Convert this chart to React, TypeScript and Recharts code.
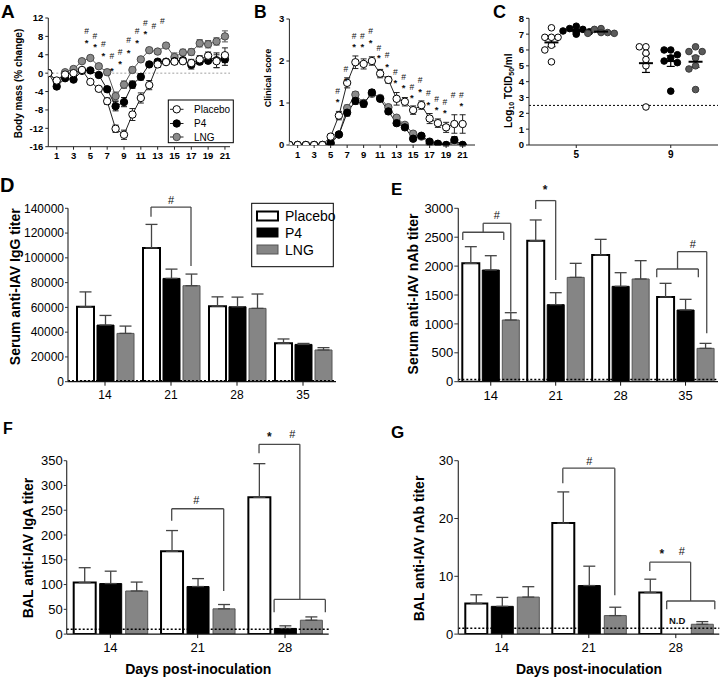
import React from 'react';
import {
  ComposedChart, Line, Bar, Scatter, XAxis, YAxis, ErrorBar, ReferenceLine, ReferenceDot,
} from 'recharts';

const FONT = '"Liberation Sans", Arial, Helvetica, sans-serif';

const seriesNames = ['Placebo', 'P4', 'LNG'];

// ---------- Panel A: body mass (% change) ----------
const aDays = [0, 1, 2, 3, 4, 5, 6, 7, 8, 9, 10, 11, 12, 13, 14, 15, 16, 17, 18, 19, 20, 21];
const aTicks = [1, 3, 5, 7, 9, 11, 13, 15, 17, 19, 21];
const aYTicks = [-16, -12, -8, -4, 0, 4, 8, 12];
const aPlacebo = [0, -1.6, -0.3, 0, 0.7, -1.9, -3.4, -6.1, -12.1, -13.4, -9.0, -5.4, -2.6, 1.9, 2.4, 2.5, 2.6, 2.2, 3.0, 3.8, 2.6, 3.9];
const aPlaceboErr = [0, 0.5, 0.4, 0.4, 0.5, 0.5, 0.5, 0.7, 0.8, 1.0, 1.3, 1.1, 1.0, 0.6, 0.5, 0.5, 0.6, 0.8, 0.8, 0.8, 1.4, 1.6];
const aP4 = [0, -2.9, -1.1, -1.4, 0.5, 0.6, -0.4, -3.5, -7.2, -6.3, -2.5, -0.8, 1.9, 2.5, 2.5, 2.6, 2.8, 1.8, 2.5, 2.7, 2.8, 3.0];
const aP4Err = [0, 0.5, 0.4, 0.4, 0.4, 0.4, 0.5, 0.6, 1.0, 1.0, 0.8, 0.7, 0.5, 0.5, 0.5, 0.6, 0.6, 0.9, 0.6, 0.6, 1.6, 1.3];
const aLng = [0, -1.8, 0.2, 0.9, 2.6, 3.3, 1.5, 0.2, -5.0, -2.5, 0.7, 3.0, 5.0, 4.7, 6.0, 3.5, 4.5, 4.6, 6.5, 6.3, 6.9, 8.0];
const aLngErr = [0, 0.4, 0.4, 0.4, 0.5, 0.5, 0.5, 0.6, 0.9, 0.8, 0.6, 0.5, 0.5, 0.5, 0.5, 0.9, 0.7, 0.7, 0.8, 0.8, 0.8, 1.2];
const aHashDays = [5, 6, 7, 8, 9, 10, 11, 12, 13, 14];
const aHashY = [9.2, 8.1, 6.3, 3.7, 4.6, 7.2, 9.2, 10.9, 10.3, 11.4];
const aStarDays = [5, 6, 7, 8, 9, 10, 11, 12];
const aStarY = [7.2, 6.3, 4.4, 1.1, 2.6, 5.0, 7.2, 9.2];

// ---------- Panel B: clinical score ----------
const bDays = aDays;
const bTicks = aTicks;
const bYTicks = [0, 1, 2, 3];
const bPlacebo = [0, 0, 0, 0, 0, 0.2, 0.7, 1.48, 1.97, 1.93, 2.0, 1.7, 1.55, 1.1, 1.03, 0.83, 0.95, 0.63, 0.52, 0.42, 0.5, 0.5];
const bPlaceboErr = [0, 0, 0, 0, 0, 0.05, 0.1, 0.12, 0.15, 0.12, 0.1, 0.1, 0.08, 0.15, 0.1, 0.1, 0.1, 0.12, 0.1, 0.12, 0.22, 0.22];
const bP4 = [0, 0, 0, 0, 0, 0.05, 0.25, 0.77, 1.05, 0.98, 1.25, 1.1, 0.8, 0.52, 0.42, 0.15, 0.22, 0.08, 0.03, 0, 0.12, 0];
const bP4Err = [0, 0, 0, 0, 0, 0.03, 0.04, 0.08, 0.08, 0.08, 0.07, 0.06, 0.06, 0.06, 0.06, 0.05, 0.05, 0.04, 0.03, 0.02, 0.08, 0.02];
const bLng = [0, 0, 0, 0, 0, 0.02, 0.25, 0.88, 1.2, 1.0, 1.22, 1.12, 0.9, 0.65, 0.48, 0.27, 0.2, 0.03, 0.02, 0, 0.05, 0];
const bLngErr = [0, 0, 0, 0, 0, 0.02, 0.04, 0.07, 0.07, 0.07, 0.07, 0.06, 0.05, 0.05, 0.05, 0.05, 0.04, 0.03, 0.02, 0.02, 0.04, 0.02];
const bHashDays = [6, 7, 8, 9, 10, 11, 12, 13, 14, 15, 16, 17, 18, 19, 20, 21];
const bHashY = [1.29, 1.82, 2.6, 2.6, 2.72, 2.3, 2.14, 1.75, 1.63, 1.39, 1.55, 1.23, 1.09, 1.03, 1.19, 1.19];
const bStarDays = [6, 7, 8, 9, 10, 11, 12, 13, 14, 15, 16, 17, 18, 19, 21];
const bStarY = [1.09, 1.6, 2.4, 2.4, 2.5, 2.14, 1.94, 1.55, 1.43, 1.19, 1.33, 1.03, 0.9, 0.83, 0.99];

// ---------- Panel C: viral titers ----------
const cDays = ['5', '9'];
const cYTicks = [0, 1, 2, 3, 4, 5, 6, 7, 8];
const c5Placebo = [7.4, 6.8, 6.8, 6.8, 6.3, 6.0, 5.25];
const c5P4 = [7.5, 7.35, 7.3, 7.2, 7.15, 7.1, 7.0];
const c5Lng = [7.35, 7.3, 7.1, 7.05, 7.05, 7.1];
const c9Placebo = [6.2, 6.2, 5.8, 5.4, 5.0, 2.4];
const c9P4 = [6.0, 6.0, 5.7, 5.5, 5.3, 5.2, 3.4];
const c9Lng = [6.2, 5.9, 5.9, 5.5, 5.0, 4.8, 3.5];
const cLimit = 2.5;

// ---------- Panel D: serum IgG ----------
const dCats = ['14', '21', '28', '35'];
const dYTicks = [0, 20000, 40000, 60000, 80000, 100000, 120000, 140000];
const dPlacebo = [60500, 108000, 61000, 31000];
const dPlaceboErr = [12000, 19000, 7500, 3500];
const dP4 = [45700, 83400, 60500, 30100];
const dP4Err = [7800, 7500, 7800, 800];
const dLng = [39000, 77500, 59200, 25600];
const dLngErr = [5900, 9400, 11600, 1900];

// ---------- Panel E: serum nAb ----------
const eCats = ['14', '21', '28', '35'];
const eYTicks = [0, 500, 1000, 1500, 2000, 2500, 3000];
const ePlacebo = [2048, 2440, 2192, 1465];
const ePlaceboErr = [288, 358, 271, 237];
const eP4 = [1932, 1333, 1650, 1240];
const eP4Err = [248, 207, 236, 185];
const eLng = [1067, 1805, 1777, 577];
const eLngErr = [127, 243, 317, 86];

// ---------- Panel F: BAL IgA ----------
const fCats = ['14', '21', '28'];
const fYTicks = [0, 50, 100, 150, 200, 250, 300, 350];
const fPlacebo = [104, 167, 276];
const fPlaceboErr = [30, 42, 68];
const fP4 = [102, 96, 11.4];
const fP4Err = [25, 16, 5.3];
const fLng = [87, 51, 28];
const fLngErr = [18, 8.7, 6.7];

// ---------- Panel G: BAL nAb ----------
const gCats = ['14', '21', '28'];
const gYTicks = [0, 10, 20, 30];
const gPlacebo = [5.3, 19.2, 7.2];
const gPlaceboErr = [1.5, 5.4, 2.3];
const gP4 = [4.8, 8.4, null];
const gP4Err = [1.55, 3.35, null];
const gLng = [6.4, 3.2, 1.7];
const gLngErr = [1.8, 1.45, 0.46];

// Significance brackets (cat index, bar-slot positions 0..2, y values)
type Bracket = { cat: number; x1: number; x2: number; top: number; left: number; right: number };
type Mark = { cat: number; pos: number; y: number; text: string };

const dBrackets: Bracket[] = [{ cat: 1, x1: 0, x2: 2, top: 141000, left: 133200, right: 93400 }];
const dMarks: Mark[] = [{ cat: 1, pos: 1, y: 146500, text: '#' }];

const eBrackets: Bracket[] = [
  { cat: 0, x1: -0.4, x2: 1.65, top: 2586, left: 2452, right: 2452 },
  { cat: 0, x1: 0.62, x2: 2, top: 2741, left: 2586, right: 1211 },
  { cat: 1, x1: 0, x2: 1, top: 3133, left: 2989, right: 1760 },
  { cat: 3, x1: -0.44, x2: 1.64, top: 1950, left: 1807, right: 1807 },
  { cat: 3, x1: 0.6, x2: 2.06, top: 2250, left: 1950, right: 838 },
];
const eMarks: Mark[] = [
  { cat: 0, pos: 1.3, y: 2885, text: '#' },
  { cat: 1, pos: 0.47, y: 3375, text: '*' },
  { cat: 3, pos: 1.36, y: 2383, text: '#' },
];

const fBrackets: Bracket[] = [
  { cat: 1, x1: 0, x2: 2, top: 253, left: 229, right: 87 },
  { cat: 2, x1: 0, x2: 1.57, top: 383, left: 365, right: 71 },
  { cat: 2, x1: 0.58, x2: 2.55, top: 70, left: 44, right: 44 },
];
const fMarks: Mark[] = [
  { cat: 1, pos: 0.95, y: 271, text: '#' },
  { cat: 2, pos: 0.4, y: 403, text: '*' },
  { cat: 2, pos: 1.28, y: 403, text: '#' },
];

const gBrackets: Bracket[] = [
  { cat: 1, x1: 0, x2: 2, top: 28.7, left: 26.1, right: 6.7 },
  { cat: 2, x1: 0, x2: 1.57, top: 12.45, left: 10.9, right: 5.73 },
  { cat: 2, x1: 0.65, x2: 2.5, top: 5.73, left: 4.3, right: 4.3 },
];
const gMarks: Mark[] = [
  { cat: 1, pos: 1.02, y: 30, text: '#' },
  { cat: 2, pos: 0.46, y: 14.3, text: '*' },
  { cat: 2, pos: 1.23, y: 14.3, text: '#' },
  { cat: 2, pos: 1.05, y: 2.3, text: 'N.D' },
];

// ---------- styles ----------
const axisStroke = { stroke: '#222', strokeWidth: 1 };
const smallTick = { fontSize: 9.5, fontWeight: 'bold', fill: '#000', fontFamily: FONT };
const placeboStyle = { fill: '#ffffff', stroke: '#000000' };
const p4Style = { fill: '#000000', stroke: '#000000' };
const lngStyle = { fill: '#8a8a8a', stroke: '#4a4a4a' };

const annotShape = (size: number) => (p: any) => {
  const sym = p.payload?.sym ?? '';
  const isStar = sym === '*';
  return (
    <text
      x={p.cx}
      y={p.cy + (isStar ? size * 0.3 : 0)}
      textAnchor="middle"
      dominantBaseline="central"
      fontFamily={FONT}
      fontSize={isStar ? size + 1 : size}
      fontWeight={isStar ? 'bold' : 'normal'}
      fill="#111"
    >
      {sym}
    </text>
  );
};

function LinePanel(props: any) {
  const {
    left, top, width, height, days, ticks, yTicks, yDomain, xDomain, pl, plE, p4, p4E, lng, lngE,
    hashDays, hashY, starDays, starY, shift, yWidth, mTop, mRight, mBottom, showZero,
  } = props;
  const rows = days.map((d: number, i: number) => ({
    day: d, placebo: pl[i], placeboErr: plE[i], p4: p4[i], p4Err: p4E[i], lng: lng[i], lngErr: lngE[i],
  }));
  const annot = [
    ...hashDays.map((d: number, i: number) => ({ day: d - shift, val: hashY[i], sym: '#' })),
    ...starDays.map((d: number, i: number) => ({ day: d - shift, val: starY[i], sym: '*' })),
  ];
  const dot = (s: any) => ({ r: 3.7, fill: s.fill, stroke: s.stroke, strokeWidth: 1 });
  return (
    <div style={{ position: 'absolute', left, top }}>
      <ComposedChart width={width} height={height} data={rows} margin={{ top: mTop, right: mRight, bottom: mBottom, left: 0 }}>
        <XAxis dataKey="day" type="number" domain={xDomain} ticks={ticks} allowDataOverflow height={20}
          tickSize={3} tickMargin={3} axisLine={axisStroke} tickLine={axisStroke} tick={smallTick} interval={0} />
        <YAxis type="number" domain={yDomain} ticks={yTicks} width={yWidth} tickSize={3} tickMargin={2}
          axisLine={axisStroke} tickLine={axisStroke} tick={smallTick} interval={0} allowDataOverflow />
        {showZero && <ReferenceLine y={0} stroke="#888" strokeDasharray="2 2" strokeWidth={0.8} />}
        <Line dataKey="lng" stroke="#555" strokeWidth={1} dot={dot(lngStyle)} activeDot={false} isAnimationActive={false}>
          <ErrorBar dataKey="lngErr" direction="y" width={3} stroke="#555" strokeWidth={1} />
        </Line>
        <Line dataKey="p4" stroke="#111" strokeWidth={1} dot={dot(p4Style)} activeDot={false} isAnimationActive={false}>
          <ErrorBar dataKey="p4Err" direction="y" width={3} stroke="#111" strokeWidth={1} />
        </Line>
        <Line dataKey="placebo" stroke="#222" strokeWidth={1} dot={dot(placeboStyle)} activeDot={false} isAnimationActive={false}>
          <ErrorBar dataKey="placeboErr" direction="y" width={3} stroke="#222" strokeWidth={1} />
        </Line>
        <Scatter data={annot} dataKey="val" shape={annotShape(8.5)} isAnimationActive={false} legendType="none" />
      </ComposedChart>
    </div>
  );
}

// beeswarm layout of one group's points around its centre (layout only)
function swarm(values: number[], center: number) {
  const pxX = 23.6, pxY = 15.8, minD = 6.3;
  const placed: { x: number; y: number }[] = [];
  const order = [0, -1, 1, -2, 2, -3, 3, -4, 4];
  values.forEach((v) => {
    let x = center;
    for (const c of order) {
      const cx = center + c * 0.14;
      if (placed.every((p) => Math.hypot((p.x - cx) * pxX, (p.y - v) * pxY) >= minD)) { x = cx; break; }
    }
    placed.push({ x, y: v });
  });
  return placed;
}

function PanelC() {
  const groups = [[c5Placebo, c5P4, c5Lng], [c9Placebo, c9P4, c9Lng]];
  const styles = [
    { fill: '#fff', stroke: '#000' },
    { fill: '#000', stroke: '#000' },
    { fill: '#5a5a5a', stroke: '#3a3a3a' },
  ];
  const offsets = [-1.05, 0, 1.05];
  const catPos = cDays.map((_, i) => 2 + 4 * i);
  const pts: any[][] = [[], [], []];
  const means: any[] = [];
  groups.forEach((g, ci) => {
    g.forEach((vals, si) => {
      const c = catPos[ci] + offsets[si];
      swarm(vals, c).forEach((p) => pts[si].push(p));
      const m = vals.reduce((a, b) => a + b, 0) / vals.length;
      const sd = Math.sqrt(vals.reduce((a, b) => a + (b - m) * (b - m), 0) / (vals.length - 1));
      means.push({ x: c, y: m, sem: sd / Math.sqrt(vals.length), w: si === 1 ? 8 : 7 });
    });
  });
  const circle = (s: any) => (p: any) => (
    <circle cx={p.cx} cy={p.cy} r={3.3} fill={s.fill} stroke={s.stroke} strokeWidth={1} />
  );
  const meanShape = (p: any) => (
    <line x1={p.cx - p.payload.w} x2={p.cx + p.payload.w} y1={p.cy} y2={p.cy} stroke="#000" strokeWidth={2} />
  );
  return (
    <div style={{ position: 'absolute', left: 480, top: 0 }}>
      <ComposedChart width={240} height={170} margin={{ top: 18.3, right: 2, bottom: 5, left: 0 }}>
        <XAxis dataKey="x" type="number" domain={[0, 8]} ticks={catPos} allowDataOverflow height={20}
          tickFormatter={(v: number) => cDays[Math.round((v - 2) / 4)]} tickSize={3} tickMargin={3}
          axisLine={axisStroke} tickLine={axisStroke} tick={{ ...smallTick, fontSize: 10 }} interval={0} />
        <YAxis type="number" domain={[0, 8]} ticks={cYTicks} width={49} tickSize={3} tickMargin={2}
          axisLine={axisStroke} tickLine={axisStroke} tick={smallTick} interval={0} />
        <ReferenceLine y={cLimit} stroke="#000" strokeDasharray="2 2" strokeWidth={1} />
        {pts.map((arr, si) => (
          <Scatter key={si} data={arr} dataKey="y" shape={circle(styles[si])} isAnimationActive={false} />
        ))}
        <Scatter data={means} dataKey="y" shape={meanShape} isAnimationActive={false}>
          <ErrorBar dataKey="sem" direction="y" width={4} stroke="#000" strokeWidth={1.2} />
        </Scatter>
      </ComposedChart>
    </div>
  );
}

function BarPanel(props: any) {
  const {
    left, top, width, height, cats, pl, plE, p4, p4E, lng, lngE, yDomain, yTicks, yWidth, mRight, mTop,
    barSize, barGap, padLeft, brackets, marks, limit, tickFont, yTickSize, yTickMargin, markFont,
  } = props;
  const rows = cats.map((c: string, i: number) => ({
    day: c, idx: i,
    placebo: pl[i], placeboErr: plE[i] == null ? null : [0, plE[i]],
    p4: p4[i], p4Err: p4E[i] == null ? null : [0, p4E[i]],
    lng: lng[i], lngErr: lngE[i] == null ? null : [0, lngE[i]],
  }));
  const band = (width - yWidth - mRight - padLeft) / cats.length;
  const step = barSize + barGap;
  const toX = (cat: number, pos: number) => cat + ((pos - 1) * step) / band;
  const tickStyle = { fontSize: tickFont, fill: '#000', fontFamily: FONT };
  const br = { stroke: '#4a4a4a', strokeWidth: 1.3 };
  const segs: any[] = [];
  brackets.forEach((b: Bracket) => {
    const xa = toX(b.cat, b.x1), xb = toX(b.cat, b.x2);
    segs.push([{ x: xa, y: b.left }, { x: xa, y: b.top }]);
    segs.push([{ x: xa, y: b.top }, { x: xb, y: b.top }]);
    segs.push([{ x: xb, y: b.top }, { x: xb, y: b.right }]);
  });
  return (
    <div style={{ position: 'absolute', left, top }}>
      <ComposedChart width={width} height={height} data={rows} barGap={barGap}
        margin={{ top: mTop, right: mRight, bottom: height - mTop - 173.4 - 25, left: 0 }}>
        <XAxis xAxisId="c" dataKey="day" type="category" height={25} padding={{ left: padLeft, right: 0 }}
          tickSize={4} tickMargin={5} axisLine={{ stroke: '#111', strokeWidth: 1.3 }} tickLine={{ stroke: '#111' }}
          tick={tickStyle} interval={0} />
        <XAxis xAxisId="n" dataKey="idx" type="number" hide domain={[-0.5, cats.length - 0.5]}
          padding={{ left: padLeft, right: 0 }} allowDataOverflow />
        <YAxis type="number" domain={yDomain} ticks={yTicks} width={yWidth} tickSize={yTickSize} tickMargin={yTickMargin}
          axisLine={{ stroke: '#333', strokeWidth: 1.2 }} tickLine={{ stroke: '#333' }} tick={tickStyle} interval={0} allowDataOverflow />
        <Bar xAxisId="c" dataKey="placebo" barSize={barSize} fill="#fff" stroke="#000" strokeWidth={2} isAnimationActive={false}>
          <ErrorBar dataKey="placeboErr" direction="y" width={6} stroke="#444" strokeWidth={1.3} />
        </Bar>
        <Bar xAxisId="c" dataKey="p4" barSize={barSize} fill="#000" stroke="#000" strokeWidth={1} isAnimationActive={false}>
          <ErrorBar dataKey="p4Err" direction="y" width={6} stroke="#444" strokeWidth={1.3} />
        </Bar>
        <Bar xAxisId="c" dataKey="lng" barSize={barSize} fill="#858585" stroke="#555" strokeWidth={1} isAnimationActive={false}>
          <ErrorBar dataKey="lngErr" direction="y" width={6} stroke="#444" strokeWidth={1.3} />
        </Bar>
        <ReferenceLine xAxisId="c" y={limit} stroke="#000" strokeDasharray="2 2" strokeWidth={1.5} />
        {segs.map((s, i) => (
          <ReferenceLine key={'s' + i} xAxisId="n" segment={s} ifOverflow="visible" {...br} />
        ))}
        {marks.map((m: Mark, i: number) => (
          <ReferenceDot key={'m' + i} xAxisId="n" x={toX(m.cat, m.pos)} y={m.y} r={0} ifOverflow="visible"
            shape={(p: any) => {
              const isStar = m.text === '*';
              const isND = m.text === 'N.D';
              return (
                <text x={p.cx} y={p.cy + (isStar ? 3 : 0)} textAnchor="middle" dominantBaseline="central"
                  fontFamily={FONT} fontSize={isND ? 9.5 : isStar ? markFont + 1 : markFont}
                  fontWeight={isStar || isND ? 'bold' : 'normal'} fill="#111">{m.text}</text>
              );
            }} />
        ))}
      </ComposedChart>
    </div>
  );
}

function Overlay() {
  const vt = (x: number, y: number, size: number, content: any) => (
    <text transform={`translate(${x},${y}) rotate(-90)`} textAnchor="middle" dominantBaseline="central"
      fontFamily={FONT} fontSize={size} fontWeight="bold" fill="#000">{content}</text>
  );
  const letter = (x: number, y: number, size: number, s: string) => (
    <text x={x} y={y} fontFamily={FONT} fontSize={size} fontWeight="bold" fill="#000">{s}</text>
  );
  const aLegY = [109.3, 123.5, 137];
  const aLegStyles = [placeboStyle, p4Style, lngStyle];
  const dLegY = [216, 232.5, 249.5];
  const dLegStyles = [
    { fill: '#fff', stroke: '#000', sw: 2 },
    { fill: '#000', stroke: '#000', sw: 1 },
    { fill: '#858585', stroke: '#555', sw: 1 },
  ];
  return (
    <svg width={720} height={678} style={{ position: 'absolute', left: 0, top: 0, pointerEvents: 'none' }}>
      {letter(1, 18, 19, 'A')}
      {letter(254, 17.5, 17.5, 'B')}
      {letter(493, 17.5, 18, 'C')}
      {letter(0, 192, 20, 'D')}
      {letter(391, 195, 17, 'E')}
      {letter(3, 434, 16, 'F')}
      {letter(391, 438, 17, 'G')}

      {vt(18.3, 83.5, 10, 'Body mass (% change)')}
      {vt(268.3, 78, 9, 'Clinical score')}
      <text transform="translate(508,128) rotate(-90)" textAnchor="start" dominantBaseline="central"
        fontFamily={FONT} fontSize={10} fontWeight="bold" fill="#000">
        Log<tspan fontSize={7} dy={3}>10</tspan><tspan dy={-3}> TCID</tspan><tspan fontSize={7} dy={3}>50</tspan><tspan dy={-3}>/ml</tspan>
      </text>
      {vt(15, 286.7, 14, 'Serum anti-IAV IgG titer')}
      {vt(413.3, 294, 14, 'Serum anti-IAV nAb titer')}
      {vt(28.3, 548, 14, 'BAL anti-IAV IgA titer')}
      {vt(419, 548.5, 14, 'BAL anti-IAV nAb titer')}
      <text x={198.3} y={668.5} textAnchor="middle" dominantBaseline="central" fontFamily={FONT} fontSize={14} fontWeight="bold">Days post-inoculation</text>
      <text x={589} y={668.5} textAnchor="middle" dominantBaseline="central" fontFamily={FONT} fontSize={14} fontWeight="bold">Days post-inoculation</text>

      {/* Legend A */}
      <rect x={168.3} y={100} width={65} height={42.7} fill="#fff" stroke="#000" strokeWidth={1} />
      {seriesNames.map((n, i) => (
        <g key={'la' + i}>
          <line x1={170} x2={183.5} y1={aLegY[i]} y2={aLegY[i]} stroke="#222" strokeWidth={1} />
          <circle cx={176.7} cy={aLegY[i]} r={3.7} fill={aLegStyles[i].fill} stroke={aLegStyles[i].stroke} strokeWidth={1} />
          <text x={194} y={aLegY[i]} dominantBaseline="central" fontFamily={FONT} fontSize={10} fill="#000">{n}</text>
        </g>
      ))}

      {/* Legend D */}
      <rect x={251.7} y={203.3} width={81.6} height={63.4} fill="#fff" stroke="#000" strokeWidth={1} />
      {seriesNames.map((n, i) => (
        <g key={'ld' + i}>
          <rect x={257} y={dLegY[i] - 4.5} width={21} height={9} fill={dLegStyles[i].fill} stroke={dLegStyles[i].stroke} strokeWidth={dLegStyles[i].sw} />
          <text x={285} y={dLegY[i]} dominantBaseline="central" fontFamily={FONT} fontSize={14} fill="#000">{n}</text>
        </g>
      ))}
    </svg>
  );
}

export default function App() {
  return (
    <div style={{ position: 'absolute', left: 0, top: 0, width: 720, height: 678, background: '#fff', fontFamily: FONT, overflow: 'hidden' }}>
      <LinePanel left={0} top={0} width={240} height={170} days={aDays} ticks={aTicks} yTicks={aYTicks}
        yDomain={[-16, 12]} xDomain={[0, 21.6]} pl={aPlacebo} plE={aPlaceboErr} p4={aP4} p4E={aP4Err}
        lng={aLng} lngE={aLngErr} hashDays={aHashDays} hashY={aHashY} starDays={aStarDays} starY={aStarY}
        shift={0.45} yWidth={48.3} mTop={18} mRight={10} mBottom={3.3} showZero />
      <LinePanel left={240} top={0} width={240} height={170} days={bDays} ticks={bTicks} yTicks={bYTicks}
        yDomain={[0, 3]} xDomain={[0, 22.5]} pl={bPlacebo} plE={bPlaceboErr} p4={bP4} p4E={bP4Err}
        lng={bLng} lngE={bLngErr} hashDays={bHashDays} hashY={bHashY} starDays={bStarDays} starY={bStarY}
        shift={0.15} yWidth={49.4} mTop={19} mRight={5} mBottom={5} showZero={false} />
      <PanelC />
      <BarPanel left={0} top={170} width={360} height={240} cats={dCats} pl={dPlacebo} plE={dPlaceboErr}
        p4={dP4} p4E={dP4Err} lng={dLng} lngE={dLngErr} yDomain={[0, 140000]} yTicks={dYTicks} yWidth={68}
        mRight={24} mTop={38.3} barSize={17} barGap={3} padLeft={4} brackets={dBrackets} marks={dMarks}
        limit={700} tickFont={12} yTickSize={3} yTickMargin={1} markFont={11} />
      <BarPanel left={360} top={170} width={360} height={240} cats={eCats} pl={ePlacebo} plE={ePlaceboErr}
        p4={eP4} p4E={eP4Err} lng={eLng} lngE={eLngErr} yDomain={[0, 3000]} yTicks={eYTicks} yWidth={98.3}
        mRight={2} mTop={38.3} barSize={17} barGap={3} padLeft={0} brackets={eBrackets} marks={eMarks}
        limit={40} tickFont={13} yTickSize={4} yTickMargin={1} markFont={11} />
      <BarPanel left={0} top={400} width={360} height={265} cats={fCats} pl={fPlacebo} plE={fPlaceboErr}
        p4={fP4} p4E={fP4Err} lng={fLng} lngE={fLngErr} yDomain={[0, 350]} yTicks={fYTicks} yWidth={66.7}
        mRight={31.3} mTop={60.7} barSize={22} barGap={4} padLeft={0} brackets={fBrackets} marks={fMarks}
        limit={10} tickFont={13} yTickSize={3} yTickMargin={1} markFont={11} />
      <BarPanel left={360} top={400} width={360} height={265} cats={gCats} pl={gPlacebo} plE={gPlaceboErr}
        p4={gP4} p4E={gP4Err} lng={gLng} lngE={gLngErr} yDomain={[0, 30]} yTicks={gYTicks} yWidth={98.3}
        mRight={0.7} mTop={60.7} barSize={22} barGap={4} padLeft={0} brackets={gBrackets} marks={gMarks}
        limit={1} tickFont={13} yTickSize={4} yTickMargin={1} markFont={11} />
      <Overlay />
    </div>
  );
}
